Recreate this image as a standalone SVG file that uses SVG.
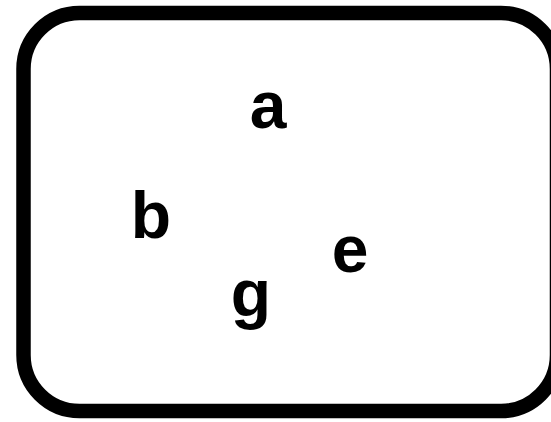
<svg xmlns="http://www.w3.org/2000/svg" width="551" height="422" viewBox="0 0 551 422">
<style>
.frame{fill:#fff;stroke:#000;stroke-width:14.5}
.lbl{font-family:"Liberation Sans",Arial,sans-serif;font-weight:bold;font-size:66px;fill:#000;text-anchor:middle}
</style>
<rect width="551" height="422" fill="#fff"/>
<rect class="frame" x="23.5" y="13" width="533.5" height="398" rx="56" ry="56"/>
<g id="connectors"></g>
<g id="node-a"><text class="lbl" x="268" y="128">a</text></g>
<g id="node-b"><text class="lbl" x="151" y="238">b</text></g>
<g id="node-e"><text class="lbl" x="350" y="272">e</text></g>
<g id="node-g"><text class="lbl" x="251" y="316">g</text></g>
</svg>
